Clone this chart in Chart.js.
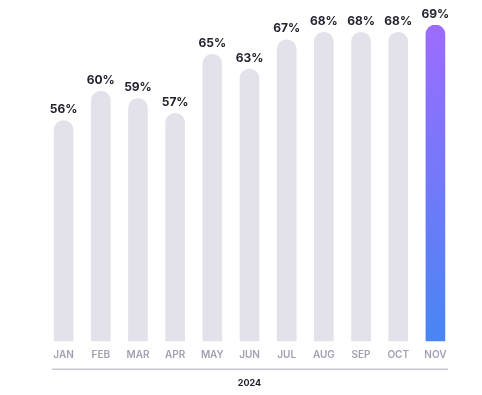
<!DOCTYPE html>
<html lang="en">

<head>
    <meta charset="UTF-8">
    <title>2024</title>
    <script src="https://cdn.jsdelivr.net/npm/chart.js"></script>
    <style>
        html, body { margin: 0; padding: 0; background: #fff; }
        #wrap { position: relative; width: 482px; height: 395px; }
    </style>
</head>

<body>
    <div id="wrap"><canvas id="rateChart"></canvas></div>
    <script>
        const months = ['JAN', 'FEB', 'MAR', 'APR', 'MAY', 'JUN', 'JUL', 'AUG', 'SEP', 'OCT', 'NOV'];
        const rates = [56, 60, 59, 57, 65, 63, 67, 68, 68, 68, 69];
        const yearLabel = '2024';

        // percent labels on top of each bar
        const topLabels = {
            id: 'topLabels',
            afterDatasetsDraw(chart) {
                const ctx = chart.ctx;
                const meta = chart.getDatasetMeta(0);
                ctx.save();
                ctx.font = 'bold 12px Inter';
                ctx.fillStyle = '#23232f';
                ctx.textAlign = 'center';
                ctx.textBaseline = 'bottom';
                meta.data.forEach((bar, i) => {
                    ctx.fillText(rates[i] + '%', bar.x, bar.y - 5);
                });
                ctx.restore();
            }
        };

        // grey rule between month names and the year
        const yearRule = {
            id: 'yearRule',
            afterDraw(chart) {
                const x = chart.scales.x;
                const ctx = chart.ctx;
                ctx.save();
                ctx.strokeStyle = '#c9c8d2';
                ctx.lineWidth = 1.5;
                ctx.beginPath();
                ctx.moveTo(x.left + 7, x.top + 28);
                ctx.lineTo(x.right - 6, x.top + 28);
                ctx.stroke();
                ctx.restore();
            }
        };

        function barColor(context) {
            const chart = context.chart;
            const area = chart.chartArea;
            if (context.dataIndex !== rates.length - 1) return '#e3e2ea';
            if (!area) return '#8f74fb';
            const g = chart.ctx.createLinearGradient(0, area.top, 0, area.bottom);
            g.addColorStop(0, '#9d6cfd');
            g.addColorStop(1, '#4886f4');
            return g;
        }

        new Chart(document.getElementById('rateChart'), {
            type: 'bar',
            data: {
                labels: months,
                datasets: [{
                    data: rates,
                    backgroundColor: barColor,
                    borderRadius: { topLeft: 10, topRight: 10 },
                    borderSkipped: false,
                    barThickness: 19
                }]
            },
            options: {
                responsive: true,
                maintainAspectRatio: false,
                animation: false,
                layout: { padding: { top: 25, left: 45, right: 28, bottom: 6 } },
                plugins: {
                    legend: { display: false },
                    tooltip: { enabled: false }
                },
                scales: {
                    x: {
                        grid: { display: false },
                        border: { display: false },
                        ticks: {
                            color: '#a2a1b2',
                            font: { family: 'Inter', size: 10, weight: '600' },
                            padding: 0
                        },
                        title: {
                            display: true,
                            text: yearLabel,
                            color: '#23232f',
                            font: { family: 'Inter', size: 9, weight: 'bold' },
                            padding: { top: 17, bottom: 0 }
                        }
                    },
                    y: {
                        display: false,
                        min: 26,
                        max: 69
                    }
                }
            },
            plugins: [topLabels, yearRule]
        });
    </script>
</body>

</html>
